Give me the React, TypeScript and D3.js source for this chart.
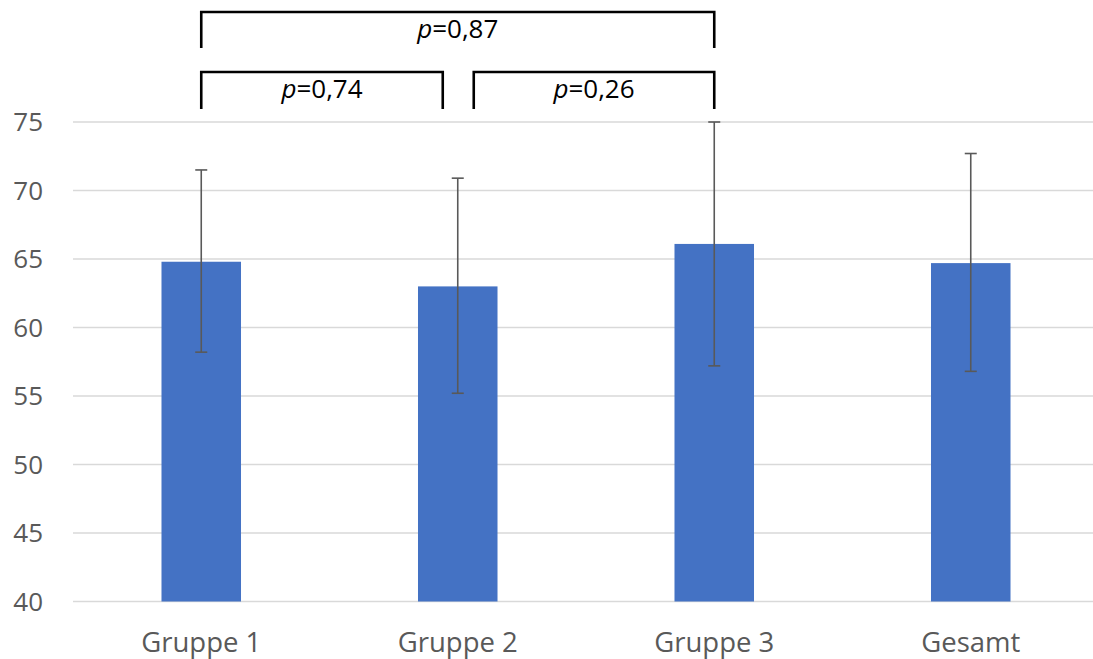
import React, { useEffect, useRef } from 'react'
import * as d3 from 'd3';

const groups = ["Gruppe 1", "Gruppe 2", "Gruppe 3", "Gesamt"];
const means = [64.8, 63.0, 66.1, 64.7];
const errLow = [58.2, 55.2, 57.2, 56.8];
const errHigh = [71.5, 70.9, 75.0, 72.7];
const yTicks = [40, 45, 50, 55, 60, 65, 70, 75];

// comparisons: [from, to, p-label, level]
const compFrom = ["Gruppe 1", "Gruppe 2", "Gruppe 1"];
const compTo = ["Gruppe 2", "Gruppe 3", "Gruppe 3"];
const compP = ["0,74", "0,26", "0,87"];
const compLevel = [0, 0, 1];

function App() {
  const chart = useRef<SVGSVGElement>(null);

  useEffect(() => {
    document.body.style.margin = "0";
    const w = 1093;
    const h = 659;
    const svg = d3.select(chart.current)
      .attr("width", w)
      .attr("height", h);
    svg.selectAll("*").remove();

    const font = "'Open Sans', 'Liberation Sans', sans-serif";
    const grey = "#595959";

    const x = d3.scaleBand<string>()
      .domain(groups)
      .range([73, 1099])
      .paddingInner(0.69)
      .paddingOuter(0.345);
    const y = d3.scaleLinear()
      .domain([40, 75])
      .range([601.5, 122]);
    const cx = (g: string) => (x(g) as number) + x.bandwidth() / 2;

    // GRID
    svg.append("g")
      .selectAll("line")
      .data(yTicks)
      .join("line")
      .attr("x1", 73)
      .attr("x2", w)
      .attr("y1", d => y(d))
      .attr("y2", d => y(d))
      .attr("stroke", "#d9d9d9")
      .attr("stroke-width", 1.5);

    // Y LABELS
    svg.append("g")
      .selectAll("text")
      .data(yTicks)
      .join("text")
      .text(d => d)
      .attr("x", 43)
      .attr("y", d => y(d) + 9)
      .attr("text-anchor", "end")
      .attr("font-family", font)
      .attr("font-size", 26)
      .attr("fill", grey);

    // BARS
    svg.append("g")
      .selectAll("rect")
      .data(groups)
      .join("rect")
      .attr("x", d => x(d) as number)
      .attr("width", x.bandwidth())
      .attr("y", (d, i) => y(means[i]))
      .attr("height", (d, i) => y(40) - y(means[i]))
      .attr("fill", "#4472C4");

    // ERROR BARS
    const err = svg.append("g")
      .attr("stroke", grey)
      .attr("stroke-width", 1.6);
    groups.forEach((g, i) => {
      const c = cx(g);
      err.append("line")
        .attr("x1", c).attr("x2", c)
        .attr("y1", y(errLow[i])).attr("y2", y(errHigh[i]));
      [errLow[i], errHigh[i]].forEach(v => {
        err.append("line")
          .attr("x1", c - 6).attr("x2", c + 6)
          .attr("y1", y(v)).attr("y2", y(v));
      });
    });

    // X LABELS
    svg.append("g")
      .selectAll("text")
      .data(groups)
      .join("text")
      .text(d => d)
      .attr("x", d => cx(d))
      .attr("y", 652)
      .attr("text-anchor", "middle")
      .attr("font-family", font)
      .attr("font-size", 27.5)
      .attr("fill", grey);

    // SIGNIFICANCE BRACKETS
    const levelTop = [72, 12];
    const levelBottom = [109, 48];
    compP.forEach((p, i) => {
      let x1 = cx(compFrom[i]);
      let x2 = cx(compTo[i]);
      if (compLevel[i] === 0) {
        if (compFrom[i] !== groups[0]) x1 += 16;
        if (compTo[i] !== groups[2]) x2 -= 15;
      }
      const t = levelTop[compLevel[i]];
      const b = levelBottom[compLevel[i]];
      svg.append("path")
        .attr("d", `M${x1},${b}V${t}H${x2}V${b}`)
        .attr("fill", "none")
        .attr("stroke", "black")
        .attr("stroke-width", 2.6);
      const txt = svg.append("text")
        .attr("x", (x1 + x2) / 2)
        .attr("y", t + 26)
        .attr("text-anchor", "middle")
        .attr("font-family", font)
        .attr("font-size", 26)
        .attr("fill", "black");
      txt.append("tspan").attr("font-style", "italic").text("p");
      txt.append("tspan").text("=" + p);
    });
  });

  return (
    <div className="chart">
      <svg ref={chart} style={{ display: "block" }}></svg>
    </div>
  )
}

export default App
